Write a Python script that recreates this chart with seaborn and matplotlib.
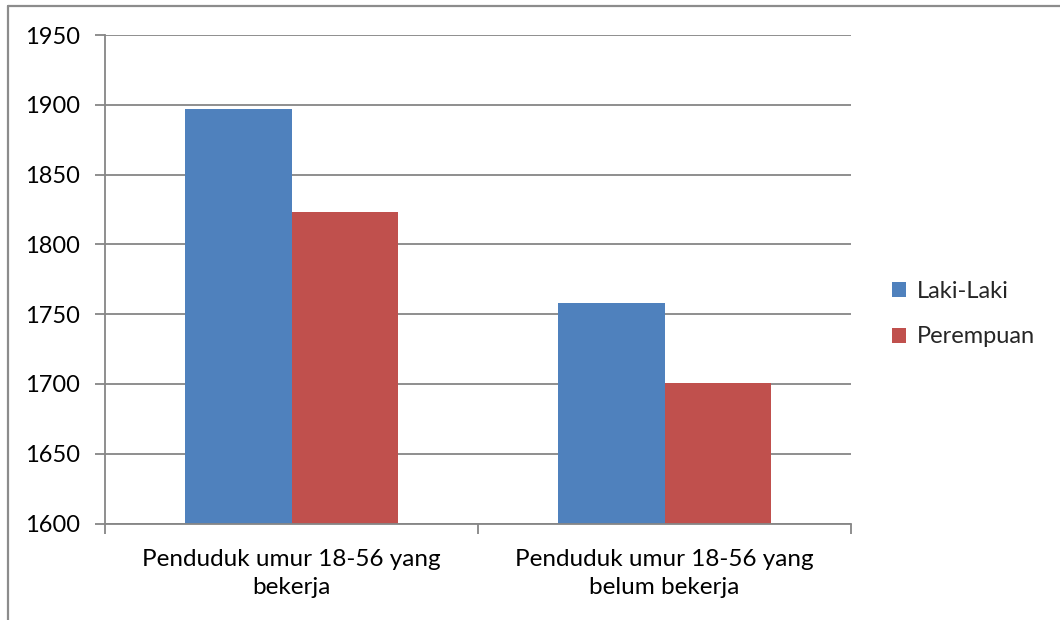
import pandas as pd
import seaborn as sns
import matplotlib.pyplot as plt
from matplotlib.lines import Line2D

## Data
categories = ["Penduduk umur 18-56 yang\nbekerja", "Penduduk umur 18-56 yang\nbelum bekerja"]
genders = ["Laki-Laki", "Perempuan"]
laki_laki = [1897, 1758]
perempuan = [1823, 1701]
y_ticks = [1600, 1650, 1700, 1750, 1800, 1850, 1900, 1950]


def main():
    df = pd.DataFrame({
        "kategori": categories * 2,
        "jenis": [genders[0]] * 2 + [genders[1]] * 2,
        "jumlah": laki_laki + perempuan,
    })

    sns.set_theme(style="white")
    plt.rcParams['font.family'] = ['Lato', 'DejaVu Sans']
    grey = "#868686"

    fig = plt.figure(figsize=(10.6, 6.2), dpi=100)
    ax = fig.add_axes([0.0991, 0.1556, 0.7038, 0.7879])

    sns.barplot(data=df, x="kategori", y="jumlah", hue="jenis",
                palette=["#4F81BD", "#C0504D"], saturation=1, width=0.572, gap=0,
                linewidth=0, ax=ax, legend=True)

    ax.set_ylim(y_ticks[0], y_ticks[-1])
    ax.set_xlim(-0.5, 1.5)
    ax.set_yticks(y_ticks)
    ax.set_yticklabels([str(t) for t in y_ticks], fontsize=17, color="black")
    ax.yaxis.grid(True, color=grey, linewidth=1.3)
    ax.set_axisbelow(True)
    ax.set_xlabel("")
    ax.set_ylabel("")

    # x labels centred, boundary ticks like the spreadsheet
    ax.set_xticks([0, 1])
    ax.set_xticklabels(categories, fontsize=17.5, color="black", linespacing=1.45)
    ax.set_xticks([-0.5, 0.5, 1.5], minor=True)
    ax.tick_params(axis="x", which="major", length=0, pad=18)
    ax.tick_params(axis="x", which="minor", length=7, width=1.3, color=grey, direction="out", bottom=True)
    ax.tick_params(axis="y", length=7, width=1.3, color=grey, direction="out", left=True, pad=11)

    for side in ["top", "right"]:
        ax.spines[side].set_visible(False)
    for side in ["left", "bottom"]:
        ax.spines[side].set_color(grey)
        ax.spines[side].set_linewidth(1.3)

    handles, labels = ax.get_legend_handles_labels()
    ax.get_legend().remove()
    fig.legend(handles, labels, loc="center left", bbox_to_anchor=(871 / 1060, 1 - 314 / 620),
               frameon=False, fontsize=17, handlelength=0.6, handleheight=0.6,
               handletextpad=0.45, labelspacing=1.05)

    # outer chart frame (cut off at the right and bottom)
    fig.add_artist(Line2D([8 / 1060, 1], [1 - 5.5 / 620] * 2, color="#8c8c8c", linewidth=1.6))
    fig.add_artist(Line2D([8 / 1060] * 2, [0, 1 - 5.5 / 620], color="#8c8c8c", linewidth=1.6))

    fig.savefig("out.png", dpi=100, facecolor="white")


if __name__ == '__main__':
    main()
